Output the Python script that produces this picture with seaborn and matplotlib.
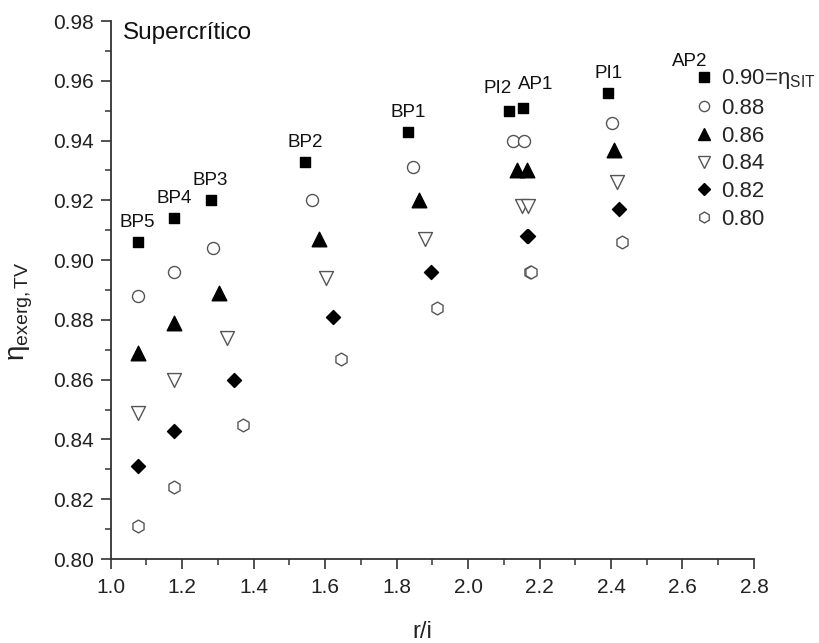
import numpy as np
import pandas as pd
import matplotlib
matplotlib.use("Agg")
import matplotlib.pyplot as plt
from matplotlib.lines import Line2D
from matplotlib.ticker import MultipleLocator, FormatStrFormatter
import seaborn as sns

# Operating points (labels drawn above the 0.90 series)
points = ["BP5", "BP4", "BP3", "BP2", "BP1", "PI2", "AP1", "PI1"]

# Isentropic turbine efficiency series: r/i and exergetic efficiency
eta_sit = ["0.90", "0.88", "0.86", "0.84", "0.82", "0.80"]

x_090 = [1.076, 1.178, 1.280, 1.544, 1.832, 2.115, 2.154, 2.392]
y_090 = [0.906, 0.914, 0.920, 0.933, 0.943, 0.950, 0.951, 0.956]
x_088 = [1.076, 1.178, 1.286, 1.563, 1.846, 2.126, 2.157, 2.403]
y_088 = [0.888, 0.896, 0.904, 0.920, 0.931, 0.940, 0.940, 0.946]
x_086 = [1.076, 1.178, 1.304, 1.584, 1.863, 2.137, 2.165, 2.408]
y_086 = [0.869, 0.879, 0.889, 0.907, 0.920, 0.930, 0.930, 0.937]
x_084 = [1.076, 1.178, 1.325, 1.603, 1.880, 2.151, 2.168, 2.417]
y_084 = [0.849, 0.860, 0.874, 0.894, 0.907, 0.918, 0.918, 0.926]
x_082 = [1.076, 1.178, 1.345, 1.623, 1.897, 2.165, 2.168, 2.422]
y_082 = [0.831, 0.843, 0.860, 0.881, 0.896, 0.908, 0.908, 0.917]
x_080 = [1.076, 1.178, 1.370, 1.644, 1.913, 2.173, 2.176, 2.431]
y_080 = [0.811, 0.824, 0.845, 0.867, 0.884, 0.896, 0.896, 0.906]

xs = [x_090, x_088, x_086, x_084, x_082, x_080]
ys = [y_090, y_088, y_086, y_084, y_082, y_080]

legend_labels = [r"0.90=$\eta_{\mathrm{SIT}}$", "0.88", "0.86", "0.84", "0.82", "0.80"]

sns.set_style("ticks")
plt.rcParams["font.family"] = ["Liberation Sans", "DejaVu Sans"]
plt.rcParams["mathtext.fontset"] = "custom"
plt.rcParams["mathtext.rm"] = "Liberation Sans"
plt.rcParams["mathtext.it"] = "Liberation Sans:italic"
plt.rcParams["mathtext.default"] = "rm"

frames = []
for lab, xv, yv in zip(eta_sit, xs, ys):
    frames.append(pd.DataFrame({"ri": xv, "eta": yv, "sit": lab, "point": points}))
df = pd.concat(frames, ignore_index=True)

# marker, size (pt^2), face colour per series
styles = {
    "0.90": ("s", 60, "black"),
    "0.88": ("o", 75, "white"),
    "0.86": ("^", 110, "black"),
    "0.84": ("v", 100, "white"),
    "0.82": ("D", 51, "black"),
    "0.80": ("h", 85, "white"),
}
edge_open = "#555555"

fig = plt.figure(figsize=(8.2, 6.43), dpi=100)
ax = fig.add_axes([0.1348, 0.1306, 0.7847, 0.8367])

for lab in eta_sit:
    m, s, fc = styles[lab]
    ec = "black" if fc == "black" else edge_open
    sub = df[df["sit"] == lab]
    sns.scatterplot(data=sub, x="ri", y="eta", marker=m, s=s, color=fc,
                    edgecolor=ec, linewidth=1.0, ax=ax, legend=False, zorder=3)

ax.set_xlim(1.0, 2.8)
ax.set_ylim(0.80, 0.98)
ax.xaxis.set_major_locator(MultipleLocator(0.2))
ax.xaxis.set_minor_locator(MultipleLocator(0.1))
ax.yaxis.set_major_locator(MultipleLocator(0.02))
ax.yaxis.set_minor_locator(MultipleLocator(0.01))
ax.xaxis.set_major_formatter(FormatStrFormatter("%.1f"))
ax.yaxis.set_major_formatter(FormatStrFormatter("%.2f"))

axis_col = "#333333"
for side in ["top", "right"]:
    ax.spines[side].set_visible(False)
for side in ["left", "bottom"]:
    ax.spines[side].set_color(axis_col)
    ax.spines[side].set_linewidth(1.3)
ax.tick_params(which="major", direction="out", length=7, width=1.2,
               color=axis_col, labelsize=15, labelcolor="#222222", pad=5)
ax.tick_params(which="minor", direction="out", length=4.5, width=1.1, color=axis_col)
ax.tick_params(axis="x", which="major", pad=7)

ax.set_xlabel("r/i", fontsize=17, color="#222222")
ax.xaxis.set_label_coords(0.484, -0.115)
ax.set_ylabel(r"$\eta_{\mathrm{exerg,TV}}$", fontsize=20, color="#222222")
ax.yaxis.set_label_coords(-0.118, 0.46)

ax.text(0.019, 0.978, "Supercrítico", transform=ax.transAxes, fontsize=17.5,
        ha="left", va="center", color="#111111")

# point labels above the 0.90 markers
offsets = {"PI2": (-8, 16), "AP1": (9, 17)}
for p, xv, yv in zip(points, x_090, y_090):
    dx, dy = offsets.get(p, (0, 14))
    ax.annotate(p, (xv, yv), xytext=(dx, dy), textcoords="offset points",
                ha="center", va="center", fontsize=13.5, color="#111111")
ax.text(2.621, 0.9663, "AP2", ha="center", va="center", fontsize=13.5, color="#111111")

handles = []
for lab, txt in zip(eta_sit, legend_labels):
    m, s, fc = styles[lab]
    ec = "black" if fc == "black" else edge_open
    handles.append(Line2D([], [], linestyle="none", marker=m, markersize=np.sqrt(s) * 0.85,
                          markerfacecolor=fc, markeredgecolor=ec, markeredgewidth=1.0,
                          label=txt))
ax.legend(handles=handles, loc="upper left", bbox_to_anchor=(0.906, 0.914),
          frameon=False, fontsize=16, handlelength=0.95, handletextpad=0.3,
          labelspacing=0.3, borderpad=0, borderaxespad=0)

fig.savefig("out.png", dpi=100)
